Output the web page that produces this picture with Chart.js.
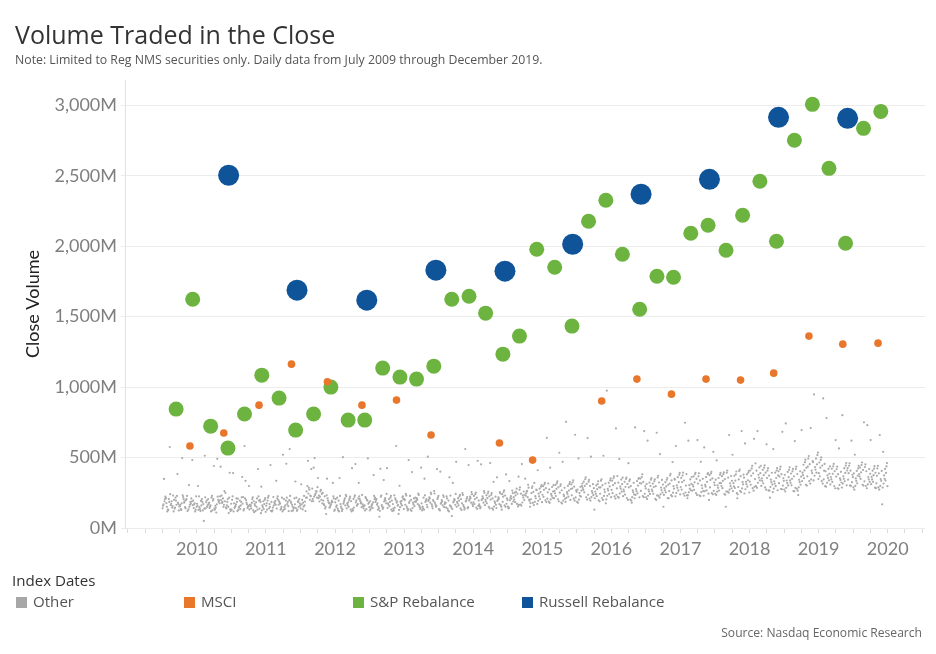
<!DOCTYPE html>
<html>
<head>
<meta charset="utf-8">
<script src="https://cdn.jsdelivr.net/npm/chart.js@4.4.1/dist/chart.umd.min.js"></script>
<style>
html,body{margin:0;padding:0;background:#fff;}
#wrap{position:relative;width:936px;height:654px;font-family:"Open Sans","Noto Sans",sans-serif;overflow:hidden;}
#c{position:absolute;left:0;top:0;}
.t{position:absolute;white-space:nowrap;line-height:1;}
#title{left:15px;top:22px;font-size:25px;color:#333;}
#sub{left:15px;top:54px;font-size:12.3px;color:#555;}
#lh{left:12px;top:573px;font-size:15.1px;color:#333;}
.li{position:absolute;top:594px;font-size:15.1px;color:#555;white-space:nowrap;line-height:15px;}
.sw{display:inline-block;width:11px;height:11px;vertical-align:-1px;margin-right:6px;}
#src{right:14px;top:627px;font-size:12.1px;color:#666;}
</style>
</head>
<body>
<div id="wrap">
<canvas id="c" width="936" height="654"></canvas>
<div class="t" id="title">Volume Traded in the Close</div>
<div class="t" id="sub">Note: Limited to Reg NMS securities only. Daily data from July 2009 through December 2019.</div>
<div class="t" id="lh">Index Dates</div>
<div class="li" style="left:16px"><span class="sw" style="background:#a7a7a7"></span>Other</div>
<div class="li" style="left:184px"><span class="sw" style="background:#e8762b"></span>MSCI</div>
<div class="li" style="left:353px"><span class="sw" style="background:#6db33f"></span>S&amp;P Rebalance</div>
<div class="li" style="left:522px"><span class="sw" style="background:#0f5499"></span>Russell Rebalance</div>
<div class="t" id="src">Source: Nasdaq Economic Research</div>
</div>
<script>
// ---- Data (dates as decimal years, values in millions of shares) ----
const russellDates  = [2010.46, 2011.45, 2012.46, 2013.46, 2014.46, 2015.44, 2016.43, 2017.42, 2018.42, 2019.42];
const russellValues = [2504, 1688, 1617, 1830, 1823, 2014, 2369, 2475, 2915, 2908];

const spDates = [2009.70, 2009.94, 2010.20, 2010.45, 2010.69, 2010.94, 2011.19, 2011.43, 2011.69, 2011.94,
                 2012.19, 2012.43, 2012.69, 2012.94, 2013.18, 2013.43, 2013.69, 2013.94, 2014.18, 2014.43,
                 2014.67, 2014.92, 2015.18, 2015.43, 2015.67, 2015.92, 2016.16, 2016.41, 2016.66, 2016.90,
                 2017.15, 2017.40, 2017.66, 2017.90, 2018.15, 2018.39, 2018.65, 2018.91, 2019.15, 2019.39,
                 2019.65, 2019.90];
const spValues = [844, 1624, 723, 567, 809, 1085, 922, 695, 809, 1000,
                  766, 766, 1135, 1071, 1057, 1149, 1624, 1645, 1525, 1234,
                  1362, 1979, 1851, 1433, 2177, 2326, 1943, 1553, 1787, 1780,
                  2092, 2149, 1972, 2220, 2461, 2035, 2752, 3007, 2553, 2021,
                  2837, 2957];

const msciDates  = [2009.90, 2010.39, 2010.90, 2011.37, 2011.89, 2012.39, 2012.89, 2013.39, 2014.38, 2014.86,
                    2015.86, 2016.37, 2016.87, 2017.37, 2017.87, 2018.35, 2018.86, 2019.35, 2019.86];
const msciValues = [582, 674, 872, 1163, 1038, 872, 908, 660, 603, 482,
                    901, 1057, 950, 1057, 1050, 1099, 1362, 1305, 1312];

// "Other" days: one row per month starting July 2009
const otherStartYear = 2009.5;
const otherMonthly = [
  // 2009 Jul-Dec
  [140,205,118,348,176,158,222,131,190,150,168,212],[190,128,162,230,575,145,205,172,118,240,156,185],
  [145,383,200,165,125,215,180,138,228,152,195,170],[180,135,220,155,496,190,128,205,165,232,148,175],
  [120,165,205,305,140,575,185,228,150,198,132,172],[150,195,130,482,175,210,142,225,162,118,188,168],
  // 2010
  [135,185,225,160,298,120,172,148,205,128,192,158],[170,140,205,513,150,50,182,125,218,162,138,195],
  [125,180,215,440,160,195,142,228,170,118,205,152],[145,200,130,491,175,110,185,158,222,138,168,195],
  [190,230,165,435,210,250,178,262,198,150,225,185],[150,120,185,392,140,106,172,205,132,160,215,145],
  [130,175,210,390,155,200,142,185,118,168,225,150],[160,120,195,362,145,185,208,135,172,152,218,128],
  [135,180,220,335,150,582,168,125,198,158,210,142],[125,165,205,298,140,190,155,218,132,178,112,160],
  [150,195,120,418,170,210,138,182,225,158,130,200],[115,160,200,293,135,185,148,212,125,170,105,190],
  // 2011
  [140,185,215,447,130,170,158,228,122,195,150,175],[125,175,210,160,335,145,192,118,182,138,220,165],
  [150,200,130,520,180,215,165,138,225,172,118,190],[135,170,205,456,120,160,185,148,215,128,195,155],
  [145,190,125,560,165,210,178,138,228,152,198,120],[130,175,215,150,330,185,160,122,205,142,192,168],
  [140,180,120,200,160,310,152,215,132,188,168,228],[200,260,285,418,477,230,215,272,190,245,225,298],
  [190,245,280,496,215,428,262,205,235,290,222,258],[175,230,200,355,260,250,188,242,212,270,195,222],
  [150,195,225,350,170,99,182,138,210,162,232,175],[130,180,210,160,320,145,192,122,168,225,148,185],
  // 2012
  [125,170,215,355,150,195,182,138,228,160,118,205],[140,185,225,503,160,120,198,152,172,235,132,210],
  [130,175,210,425,150,190,162,222,140,198,118,182],[145,195,125,454,170,220,158,205,182,135,232,165],
  [155,205,235,321,180,140,192,168,225,148,210,175],[135,180,220,494,160,200,148,212,172,125,195,158],
  [125,170,205,150,376,190,142,215,162,228,135,182],[140,185,130,420,165,80,198,152,222,175,122,205],
  [150,200,230,340,175,135,212,162,188,242,145,195],[130,175,215,425,155,195,165,228,142,185,120,205],
  [145,190,125,582,170,210,158,232,180,138,198,165],[135,185,225,300,160,100,172,205,148,218,128,192],
  // 2013
  [140,190,230,482,165,125,205,152,178,242,135,198],[130,180,215,397,155,200,168,228,142,188,122,210],
  [150,195,235,428,170,135,212,160,185,245,142,202],[140,185,125,350,165,215,195,152,232,175,130,205],
  [155,200,240,506,180,140,218,168,192,252,148,210],[165,215,245,418,190,150,228,178,205,262,158,198],
  [135,180,220,400,160,130,198,148,172,232,125,188],[125,170,210,360,145,195,182,138,160,225,118,178],
  [145,190,230,320,165,85,205,155,182,242,135,198],[140,185,225,470,160,205,175,235,150,195,128,212],
  [150,195,235,560,175,130,208,162,188,248,142,220],[155,205,240,447,180,140,222,168,195,255,148,212],
  // 2014
  [145,195,240,477,170,215,182,252,158,205,135,228],[155,205,250,452,180,140,225,168,198,262,148,212],
  [150,200,245,461,175,225,188,258,162,212,140,232],[140,190,235,328,165,210,178,248,152,202,130,222],
  [150,200,245,360,170,130,218,162,192,255,142,208],[160,210,255,380,185,230,198,268,172,222,150,240],
  [152,213,247,333,171,139,226,188,197,266,144,208],[171,219,256,364,183,243,201,279,164,232,153,251],
  [166,231,271,454,198,244,215,288,181,236,159,259],[193,246,286,350,219,151,258,201,229,307,176,263],
  [179,226,284,320,204,257,211,296,186,247,163,272],[183,244,293,410,206,268,224,305,193,255,171,279],
  // 2015
  [197,253,309,640,221,283,236,321,208,271,184,297],[187,242,304,428,216,274,229,316,203,259,178,291],
  [204,264,318,534,227,289,246,331,212,278,189,306],[181,237,298,470,207,268,226,309,195,251,174,285],
  [199,254,313,754,222,277,241,326,214,266,185,299],[208,268,324,662,232,293,256,339,217,281,194,309],
  [186,248,297,494,223,273,229,315,201,266,179,292],[218,284,346,638,253,313,271,359,236,299,201,329],
  [209,262,329,506,233,298,249,341,219,283,195,311],[197,259,312,130,226,288,242,331,211,276,189,302],
  [213,273,336,513,243,304,255,346,228,288,199,316],[219,278,338,975,241,175,266,352,229,295,203,321],
  // 2016
  [224,281,353,707,247,318,271,366,236,305,209,336],[221,294,357,490,258,322,279,369,245,311,215,344],
  [213,272,348,460,237,313,259,358,226,292,199,328],[202,268,333,180,238,297,255,345,219,288,195,321],
  [218,277,349,714,246,319,262,355,235,301,211,333],[227,298,362,688,263,327,281,381,243,315,219,351],
  [218,272,343,620,242,313,259,355,229,298,205,322],[207,273,332,676,243,297,261,345,231,291,199,315],
  [228,287,358,525,252,323,269,371,239,308,215,341],[212,283,342,151,253,307,268,355,235,295,211,325],
  [233,297,373,468,262,338,279,385,251,315,225,349],[238,302,378,582,267,343,285,391,249,325,225,361],
  // 2017
  [243,301,372,747,273,337,291,393,252,326,229,355],[232,304,362,620,268,211,279,383,253,314,231,345],
  [248,307,383,624,271,348,295,392,265,324,235,366],[231,303,367,470,262,338,282,388,255,315,226,349],
  [244,306,383,572,267,199,293,389,261,328,229,361],[247,323,387,541,288,352,305,399,264,341,239,375],
  [243,302,378,480,266,343,285,391,258,319,235,355],[241,318,382,151,283,347,298,395,259,335,236,368],
  [258,317,393,660,282,358,299,408,273,335,251,369],[247,318,381,520,284,211,295,401,262,336,239,371],
  [263,327,404,688,291,368,309,415,281,345,255,379],[252,328,392,600,293,357,311,405,275,339,245,381],
  // 2018
  [283,347,423,633,307,388,329,441,292,371,265,408],[297,378,442,688,338,407,358,459,321,389,285,431],
  [288,352,428,594,317,393,335,445,299,375,272,413],[267,343,407,215,308,372,325,425,291,355,265,392],
  [268,332,408,560,297,373,315,425,279,355,255,393],[277,353,417,683,318,382,335,435,301,365,275,402],
  [273,337,413,742,302,378,319,431,285,361,259,398],[262,338,402,617,303,367,321,419,285,349,261,387],
  [278,342,418,234,307,383,325,435,289,365,265,403],[307,393,467,695,353,427,375,485,333,409,301,449],
  [333,407,493,709,367,453,389,511,345,435,315,475],[347,433,517,948,393,467,415,535,371,452,338,492],
  // 2019
  [333,407,483,920,367,443,389,501,345,428,315,465],[297,373,437,780,338,402,355,455,321,385,293,419],
  [298,362,438,624,327,403,345,455,309,385,282,421],[282,353,417,565,323,382,341,435,305,365,278,399],
  [303,367,443,801,332,408,349,461,315,391,287,425],[302,378,442,620,343,407,361,459,325,389,298,425],
  [288,352,423,520,317,388,335,441,299,371,272,405],[307,383,447,750,348,412,365,465,331,395,301,429],
  [298,362,433,730,327,403,345,451,309,385,282,418],[287,363,422,624,328,392,345,439,311,375,283,407],
  [288,347,423,660,317,388,335,441,299,371,272,405],[297,373,437,541,338,168,349,461,315,391,287,419]
];

const yearLabels = [2010, 2011, 2012, 2013, 2014, 2015, 2016, 2017, 2018, 2019, 2020];
const yTickValues = [0, 500, 1000, 1500, 2000, 2500, 3000];

// ---- Build datasets ----
const toPts = (xs, ys) => xs.map((x, i) => ({x: x, y: ys[i]}));
const otherPoints = [];
otherMonthly.forEach((vals, m) => {
  const n = vals.length;
  vals.forEach((v, i) => {
    const slot = (i * 5 + m * 7) % n;          // trading-day slot within the month
    otherPoints.push({x: otherStartYear + (m + (slot + 0.5) / n) / 12, y: v});
  });
});

const quarterTicks = [];
for (let yr = 2009; yr <= 2020; yr++) {
  for (let q = 0; q < 4; q++) {
    const v = yr + q / 4;
    if (v >= 2008.96 && v <= 2020.54) quarterTicks.push(v);
  }
}

const fmtM = v => (v >= 1000 ? Math.floor(v / 1000) + ',' + String(v % 1000).padStart(3, '0') : String(v)) + 'M';

new Chart(document.getElementById('c'), {
  type: 'scatter',
  data: {
    datasets: [
      {label: 'Russell Rebalance', data: toPts(russellDates, russellValues), backgroundColor: '#0f5499', borderWidth: 0, pointRadius: 10.5, order: 1},
      {label: 'MSCI', data: toPts(msciDates, msciValues), backgroundColor: '#e8762b', borderWidth: 0, pointRadius: 3.8, order: 2},
      {label: 'S&P Rebalance', data: toPts(spDates, spValues), backgroundColor: '#6db33f', borderWidth: 0, pointRadius: 7.5, order: 3},
      {label: 'Other', data: otherPoints, backgroundColor: '#ababab', borderWidth: 0, pointRadius: 1.1, order: 4}
    ]
  },
  options: {
    responsive: false,
    animation: false,
    events: [],
    layout: {padding: {left: 0, top: 80, right: 11, bottom: 86}},
    plugins: {legend: {display: false}, tooltip: {enabled: false}},
    scales: {
      x: {
        type: 'linear', min: 2008.96, max: 2020.54,
        afterBuildTicks: s => { s.ticks = quarterTicks.map(v => ({value: v})); },
        afterFit: s => { s.height = 40; },
        grid: {drawOnChartArea: false, color: '#dcdcdc', tickLength: 5},
        border: {display: false},
        ticks: {
          autoSkip: false, maxRotation: 0, padding: 5, color: '#7f7f7f',
          font: {family: 'Lato', size: 18},
          callback: v => (yearLabels.includes(v) ? String(v) : '')
        }
      },
      y: {
        min: 0, max: 3180,
        afterBuildTicks: s => { s.ticks = yTickValues.map(v => ({value: v})); },
        afterFit: s => { s.width = 125; },
        grid: {color: '#ececec', tickLength: 4},
        border: {display: true, color: '#e2e2e2'},
        ticks: {padding: 4, color: '#7f7f7f', font: {family: 'Lato', size: 18}, callback: v => fmtM(v)},
        title: {display: true, text: 'Close Volume', color: '#222', font: {family: 'Lato', size: 18}, padding: {top: 22, bottom: 0}}
      }
    }
  }
});
</script>
</body>
</html>
